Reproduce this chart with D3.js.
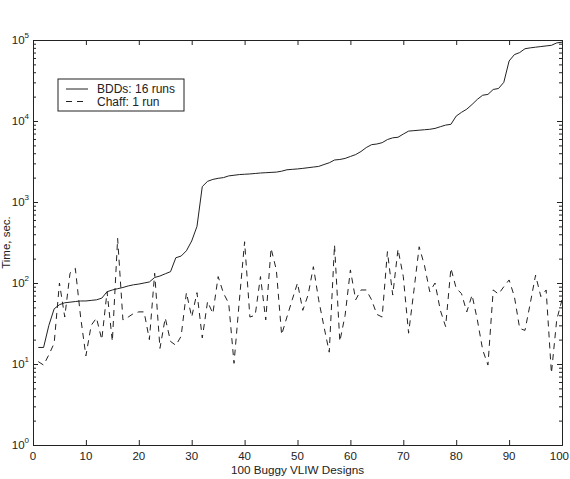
<!DOCTYPE html>
<html>
<head>
<meta charset="utf-8">
<script src="https://cdn.jsdelivr.net/npm/d3@7"></script>
<style>
  body { margin: 0; background: #fff; }
  svg { display: block; font-family: "Liberation Sans", Arial, Helvetica, sans-serif; }
</style>
</head>
<body>
<script>

// BDD run times, sorted (one value per design, design 1..100)
var bddTimes = [16, 16, 30, 48, 54, 57, 58, 59, 60, 60,
  61, 62, 65, 78, 82, 85, 88, 92, 95, 97,
  100, 103, 117, 122, 130, 138, 205, 215, 250, 330,
  500, 1550, 1800, 1900, 1960, 2000, 2100, 2140, 2180, 2200,
  2220, 2250, 2280, 2300, 2320, 2340, 2400, 2500, 2530, 2560,
  2600, 2650, 2700, 2750, 2900, 3050, 3300, 3350, 3450, 3650,
  3850, 4200, 4700, 5100, 5200, 5400, 5900, 6200, 6300, 6900,
  7500, 7600, 7700, 7800, 7900, 8100, 8500, 8900, 9100, 11500,
  12800, 14000, 16000, 18500, 20800, 21300, 24500, 25200, 30000, 55000,
  66000, 70000, 78000, 80000, 81500, 83000, 84500, 86000, 92000, 94000];

// Chaff run times for the same designs
var chaffTimes = [10.7, 9.7, 13, 18, 100, 38, 132, 152, 38, 12.6,
  30, 37, 20, 78, 19, 355, 35, 38, 42, 44,
  44, 20, 132, 15.6, 37, 19, 17, 22, 76, 38,
  76, 21, 59, 42, 120, 75, 56, 10.2, 60, 323,
  38, 40, 120, 35, 268, 145, 23, 38, 62, 100,
  46, 71, 159, 62, 29, 14, 295, 19, 40, 145,
  62, 82, 82, 62, 41, 38, 244, 71, 262, 120,
  24, 80, 280, 165, 78, 100, 46, 29, 152, 86,
  74, 44, 71, 35, 15, 9.7, 82, 73, 90, 109,
  68, 27.5, 26, 56, 125, 68, 82, 7.7, 35, 62];

var xTicks = [0, 10, 20, 30, 40, 50, 60, 70, 80, 90, 100];
var yExponents = [0, 1, 2, 3, 4, 5];
var legendLabels = ["BDDs: 16 runs", "Chaff: 1 run"];

var svgWidth = 570;
var svgHeight = 479;

var margin = {
  top: 40,
  right: 8,
  bottom: 34,
  left: 33
};

var chartWidth = svgWidth - margin.left - margin.right;
var chartHeight = svgHeight - margin.top - margin.bottom;

var ink = "#222";

var svg = d3.select("body").append("svg")
  .attr("width", svgWidth)
  .attr("height", svgHeight);

var chartGroup = svg.append("g")
  .attr("transform", `translate(${margin.left}, ${margin.top})`);

var xScale = d3.scaleLinear()
  .domain([0, 100])
  .range([0, chartWidth]);

var yScale = d3.scaleLog()
  .domain([1, 1e5])
  .range([chartHeight, 0]);

// minor log ticks (2..9 in each decade)
var minorTicks = [];
yExponents.slice(0, -1).forEach(function(e) {
  for (var m = 2; m <= 9; m++) minorTicks.push(m * Math.pow(10, e));
});
var majorTicks = yExponents.map(e => Math.pow(10, e));

// inward ticks on all four sides
var bottomAxis = d3.axisBottom(xScale).tickValues(xTicks).tickSize(-5).tickFormat("");
var topAxis = d3.axisTop(xScale).tickValues(xTicks).tickSize(-5).tickFormat("");
var leftMajor = d3.axisLeft(yScale).tickValues(majorTicks).tickSize(-5).tickFormat("");
var leftMinor = d3.axisLeft(yScale).tickValues(minorTicks).tickSize(-3).tickFormat("");
var rightMajor = d3.axisRight(yScale).tickValues(majorTicks).tickSize(-5).tickFormat("");
var rightMinor = d3.axisRight(yScale).tickValues(minorTicks).tickSize(-3).tickFormat("");

function styleAxis(g) {
  g.selectAll("path").attr("stroke", ink).attr("stroke-width", 1);
  g.selectAll("line").attr("stroke", ink).attr("stroke-width", 1);
}

chartGroup.append("g").attr("transform", `translate(0, ${chartHeight})`).call(bottomAxis).call(styleAxis);
chartGroup.append("g").call(topAxis).call(styleAxis);
chartGroup.append("g").call(leftMajor).call(styleAxis);
chartGroup.append("g").call(leftMinor).call(styleAxis).select("path").remove();
chartGroup.append("g").attr("transform", `translate(${chartWidth}, 0)`).call(rightMajor).call(styleAxis);
chartGroup.append("g").attr("transform", `translate(${chartWidth}, 0)`).call(rightMinor).call(styleAxis).select("path").remove();

// x tick labels (last one kept inside the page edge)
chartGroup.selectAll(".xlab")
  .data(xTicks)
  .enter()
  .append("text")
  .attr("class", "xlab")
  .attr("x", d => d === 100 ? svgWidth - margin.left - 1 : xScale(d))
  .attr("y", chartHeight + 15)
  .attr("text-anchor", d => d === 100 ? "end" : "middle")
  .attr("font-size", "11.5px")
  .attr("fill", ink)
  .text(d => d);

// y tick labels: 10 with superscript exponent
var yLab = chartGroup.selectAll(".ylab")
  .data(yExponents)
  .enter()
  .append("text")
  .attr("class", "ylab")
  .attr("x", -4)
  .attr("y", d => yScale(Math.pow(10, d)) + 4)
  .attr("text-anchor", "end")
  .attr("font-size", "11.5px")
  .attr("fill", ink);

yLab.append("tspan").text("10");
yLab.append("tspan")
  .attr("dy", -6)
  .attr("font-size", "8px")
  .text(d => d);

// axis labels
svg.append("text")
  .attr("x", margin.left + chartWidth / 2)
  .attr("y", 474)
  .attr("text-anchor", "middle")
  .attr("font-size", "11.7px")
  .attr("fill", ink)
  .text("100 Buggy VLIW Designs");

svg.append("text")
  .attr("transform", "rotate(-90)")
  .attr("x", -(margin.top + chartHeight / 2))
  .attr("y", 10)
  .attr("text-anchor", "middle")
  .attr("font-size", "11.5px")
  .attr("fill", ink)
  .text("Time, sec.");

// data lines
var timeLine = d3.line()
  .x((d, i) => xScale(i + 1))
  .y(d => yScale(d));

chartGroup.append("path")
  .datum(bddTimes)
  .attr("d", timeLine)
  .attr("fill", "none")
  .attr("stroke", ink)
  .attr("stroke-width", 1);

chartGroup.append("path")
  .datum(chaffTimes)
  .attr("d", timeLine)
  .attr("fill", "none")
  .attr("stroke", ink)
  .attr("stroke-width", 1)
  .attr("stroke-dasharray", "6,5");

// legend
var legend = svg.append("g")
  .attr("transform", "translate(58, 79)");

legend.append("rect")
  .attr("width", 126)
  .attr("height", 32)
  .attr("fill", "#fff")
  .attr("stroke", ink)
  .attr("stroke-width", 1);

legendLabels.forEach(function(label, i) {
  var y = 10 + i * 12.5;
  legend.append("line")
    .attr("x1", 8)
    .attr("x2", 30)
    .attr("y1", y)
    .attr("y2", y)
    .attr("stroke", ink)
    .attr("stroke-width", 1)
    .attr("stroke-dasharray", i === 1 ? "6,5" : null);
  legend.append("text")
    .attr("x", 39)
    .attr("y", y + 4)
    .attr("font-size", "12px")
    .attr("fill", ink)
    .text(label);
});

</script>
</body>
</html>
